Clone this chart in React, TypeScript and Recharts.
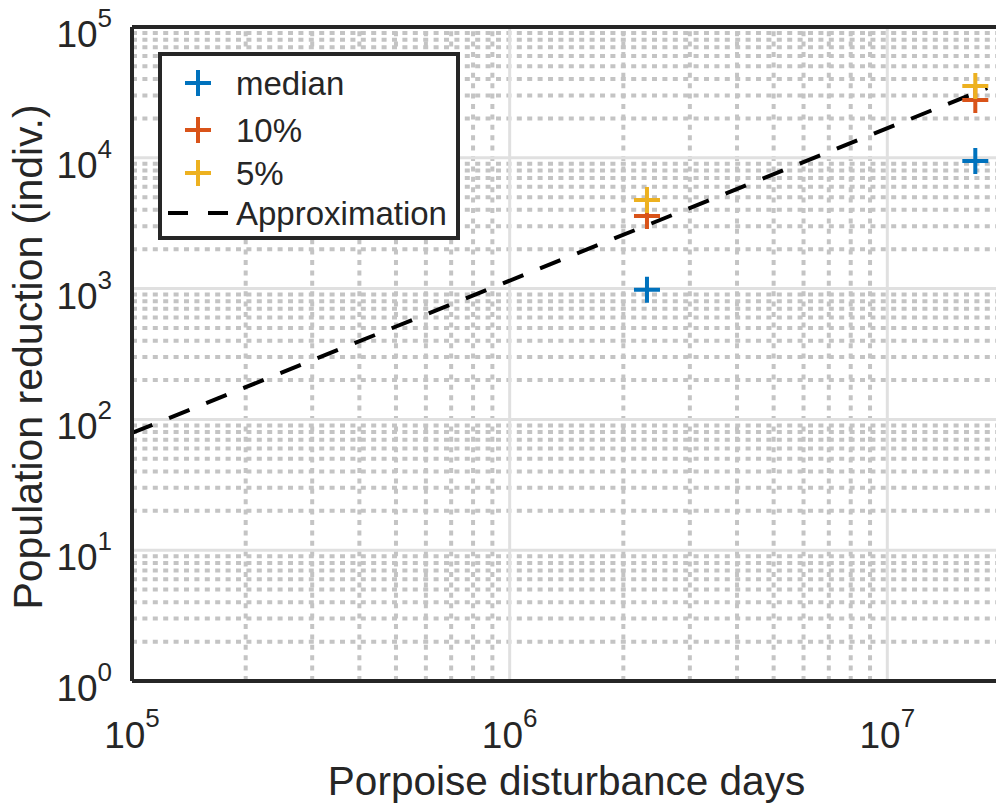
import React from "react";
import {
  ComposedChart,
  XAxis,
  YAxis,
  Scatter,
  Line,
  ReferenceLine,
} from "recharts";

// ---- data ----
const medianX = [2.31e6, 1.71e7];
const medianY = [980, 9460];
const p10X = [2.31e6, 1.71e7];
const p10Y = [3590, 27700];
const p5X = [2.31e6, 1.71e7];
const p5Y = [4760, 35400];
const approxX = [1e5, 1.84e7];
const approxY = [78.7, 34200];

const xTicks = [1e5, 1e6, 1e7];
const yTicks = [1, 10, 100, 1000, 10000, 100000];
const xMajorGrid = [1e6, 1e7];
const yMajorGrid = [10, 100, 1000, 10000];
const xMinorGrid = [
  2e5, 3e5, 4e5, 5e5, 6e5, 7e5, 8e5, 9e5,
  2e6, 3e6, 4e6, 5e6, 6e6, 7e6, 8e6, 9e6,
];
const yMinorGrid = [
  2, 3, 4, 5, 6, 7, 8, 9,
  20, 30, 40, 50, 60, 70, 80, 90,
  200, 300, 400, 500, 600, 700, 800, 900,
  2000, 3000, 4000, 5000, 6000, 7000, 8000, 9000,
  20000, 30000, 40000, 50000, 60000, 70000, 80000, 90000,
];

const seriesNames = ["median", "10%", "5%", "Approximation"];
const colors = ["#0072BD", "#D95319", "#EDB120", "#000000"];

const zip = (xs: number[], ys: number[]) => xs.map((x, i) => ({ x, y: ys[i] }));
const medianData = zip(medianX, medianY);
const p10Data = zip(p10X, p10Y);
const p5Data = zip(p5X, p5Y);
const approxData = zip(approxX, approxY);

const FONT = "'Liberation Sans', Arial, Helvetica, sans-serif";
const TEXT = "#262626";
const AXIS = "#262626";
const MINOR = "#c4c4c4";
const MAJOR = "#e0e0e0";

const plus = (color: string) => (props: any) => {
  const { cx, cy } = props;
  if (cx == null || cy == null) return <g />;
  const h = 13;
  return (
    <path
      d={`M${cx - h},${cy}H${cx + h}M${cx},${cy - h}V${cy + h}`}
      stroke={color}
      strokeWidth={4}
      fill="none"
    />
  );
};

const XTick = (props: any) => {
  const { x, y, payload } = props;
  const e = Math.round(Math.log10(payload.value));
  return (
    <text x={x} y={y + 59} textAnchor="middle" fontFamily={FONT} fill={TEXT} fontSize={37}>
      <tspan>10</tspan>
      <tspan dy={-21} fontSize={26}>{e}</tspan>
    </text>
  );
};

const YTick = (props: any) => {
  const { x, y, payload } = props;
  const e = Math.round(Math.log10(payload.value));
  return (
    <text x={x - 12} y={y + 20} textAnchor="end" fontFamily={FONT} fill={TEXT} fontSize={37}>
      <tspan>10</tspan>
      <tspan dy={-20} fontSize={26}>{e}</tspan>
    </text>
  );
};

const XLabel = (props: any) => {
  const vb = props.viewBox || {};
  return (
    <text
      x={vb.x + vb.width / 2}
      y={vb.y + 114}
      textAnchor="middle"
      fontFamily={FONT}
      fontSize={40.5}
      fill={TEXT}
    >
      Porpoise disturbance days
    </text>
  );
};

const YLabel = (props: any) => {
  const vb = props.viewBox || {};
  const cx = 42;
  const cy = vb.y + vb.height / 2 + 3;
  return (
    <text
      x={cx}
      y={cy}
      transform={`rotate(-90, ${cx}, ${cy})`}
      textAnchor="middle"
      fontFamily={FONT}
      fontSize={41}
      fill={TEXT}
    >
      Population reduction (indiv.)
    </text>
  );
};

const LegendBox = () => {
  const rowY = [31, 78, 121, 161];
  return (
    <svg
      width={302}
      height={188}
      style={{ position: "absolute", left: 158, top: 52 }}
    >
      <rect x={2} y={2} width={298} height={184} fill="#fff" stroke={AXIS} strokeWidth={4} />
      {seriesNames.map((name, i) => (
        <g key={name}>
          {i < 3 ? (
            <path
              d={`M${40 - 13},${rowY[i]}H${40 + 13}M40,${rowY[i] - 13}V${rowY[i] + 13}`}
              stroke={colors[i]}
              strokeWidth={4}
            />
          ) : (
            <path
              d={`M10,${rowY[i]}H70`}
              stroke={colors[i]}
              strokeWidth={4}
              strokeDasharray="20 20"
            />
          )}
          <text
            x={78}
            y={rowY[i]}
            dominantBaseline="central"
            fontFamily={FONT}
            fontSize={33}
            fill={TEXT}
          >
            {name}
          </text>
        </g>
      ))}
    </svg>
  );
};

const minorTickProps = {
  type: "number" as const,
  scale: "log" as const,
  allowDataOverflow: true,
  mirror: true,
  tick: false,
  axisLine: false,
  tickLine: { stroke: AXIS, strokeWidth: 2.5 },
};

export default function App() {
  return (
    <div
      style={{
        position: "absolute",
        left: 0,
        top: 0,
        width: 996,
        height: 809,
        overflow: "hidden",
        background: "#fff",
      }}
    >
      <ComposedChart
        width={1001}
        height={809}
        margin={{ top: 27, right: 0, bottom: 0, left: 0 }}
      >
        {/* inward tick marks (MATLAB style) */}
        <XAxis xAxisId="minB" {...minorTickProps} domain={[1e5, 2e7]} ticks={xMinorGrid} tickSize={5} height={0} />
        <XAxis xAxisId="majB" {...minorTickProps} domain={[1e5, 2e7]} ticks={xTicks} tickSize={9} height={0} />
        <XAxis xAxisId="minT" orientation="top" {...minorTickProps} domain={[1e5, 2e7]} ticks={xMinorGrid} tickSize={5} height={0} />
        <XAxis xAxisId="majT" orientation="top" {...minorTickProps} domain={[1e5, 2e7]} ticks={xTicks} tickSize={9} height={0} />
        <YAxis yAxisId="minL" {...minorTickProps} domain={[1, 1e5]} ticks={yMinorGrid} tickSize={5} width={0} />
        <YAxis yAxisId="majL" {...minorTickProps} domain={[1, 1e5]} ticks={yTicks} tickSize={9} width={0} />
        <XAxis
          dataKey="x"
          type="number"
          scale="log"
          domain={[1e5, 2e7]}
          allowDataOverflow
          ticks={xTicks}
          tick={<XTick />}
          tickLine={false}
          axisLine={{ stroke: AXIS, strokeWidth: 4 }}
          height={128}
          label={<XLabel />}
        />
        <YAxis
          dataKey="y"
          type="number"
          scale="log"
          domain={[1, 1e5]}
          allowDataOverflow
          ticks={yTicks}
          tick={<YTick />}
          tickLine={false}
          axisLine={{ stroke: AXIS, strokeWidth: 4 }}
          width={132}
          label={<YLabel />}
        />
        {xMinorGrid.map((v) => (
          <ReferenceLine key={"xm" + v} x={v} stroke={MINOR} strokeWidth={4} strokeDasharray="5 5.4" />
        ))}
        {yMinorGrid.map((v) => (
          <ReferenceLine key={"ym" + v} y={v} stroke={MINOR} strokeWidth={4} strokeDasharray="5 5.4" />
        ))}
        {xMajorGrid.map((v) => (
          <ReferenceLine key={"xM" + v} x={v} stroke={MAJOR} strokeWidth={3} />
        ))}
        {yMajorGrid.map((v) => (
          <ReferenceLine key={"yM" + v} y={v} stroke={MAJOR} strokeWidth={3} />
        ))}
        <ReferenceLine y={1e5} stroke={AXIS} strokeWidth={4} />
        <Scatter name={seriesNames[0]} data={medianData} fill={colors[0]} shape={plus(colors[0])} isAnimationActive={false} />
        <Scatter name={seriesNames[1]} data={p10Data} fill={colors[1]} shape={plus(colors[1])} isAnimationActive={false} />
        <Scatter name={seriesNames[2]} data={p5Data} fill={colors[2]} shape={plus(colors[2])} isAnimationActive={false} />
        <Line
          name={seriesNames[3]}
          data={approxData}
          dataKey="y"
          type="linear"
          stroke={colors[3]}
          strokeWidth={4}
          strokeDasharray="22 18"
          dot={false}
          activeDot={false}
          isAnimationActive={false}
        />
      </ComposedChart>
      <LegendBox />
    </div>
  );
}
